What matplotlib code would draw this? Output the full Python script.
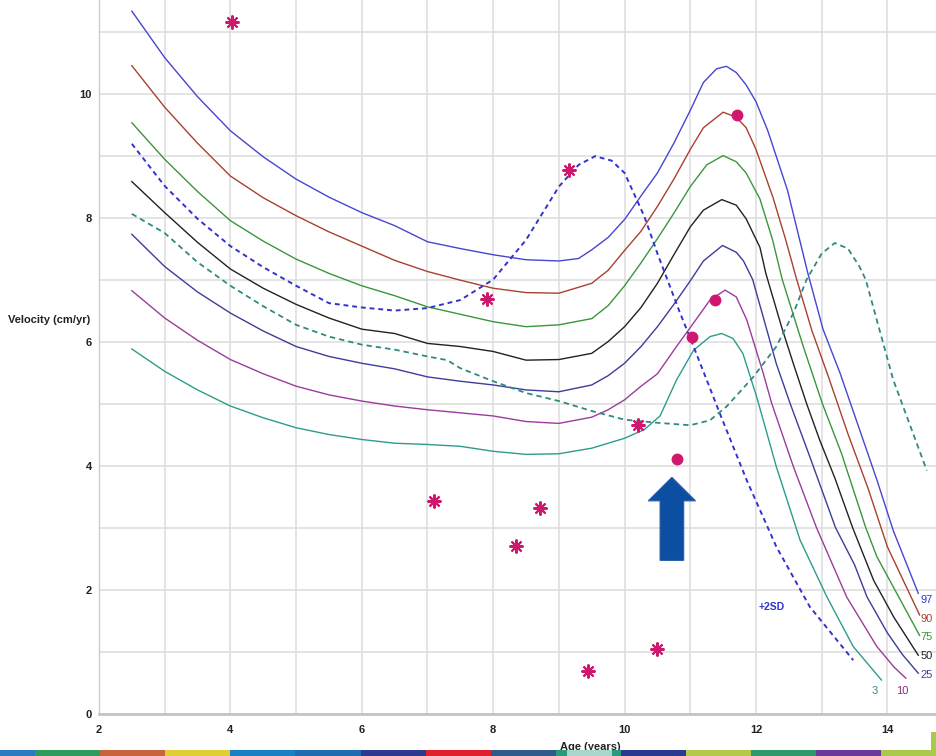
import matplotlib
matplotlib.use("Agg")
import matplotlib.pyplot as plt
from matplotlib.patches import Rectangle, Polygon

# ---------------- data ----------------
p97_x = [2.5, 3, 3.5, 4, 4.5, 5, 5.5, 6, 6.5, 7, 7.5, 8, 8.5, 9, 9.3, 9.5, 9.75, 10, 10.25, 10.5,
         10.75, 11, 11.2, 11.4, 11.55, 11.7, 11.85, 12.0, 12.18, 12.48, 12.79, 13.02, 13.28,
         13.58, 13.84, 14.09, 14.47]
p97_y = [11.33, 10.58, 9.95, 9.40, 8.98, 8.62, 8.33, 8.08, 7.87, 7.61, 7.50, 7.40, 7.32, 7.30, 7.34,
         7.48, 7.68, 7.97, 8.35, 8.72, 9.20, 9.73, 10.18, 10.40, 10.44, 10.34, 10.14, 9.87, 9.40,
         8.44, 7.10, 6.20, 5.49, 4.57, 3.77, 2.95, 1.94]

p90_x = [2.5, 3, 3.5, 4, 4.5, 5, 5.5, 6, 6.5, 7, 7.5, 8, 8.5, 9, 9.5, 9.75, 10, 10.25, 10.5, 10.75,
         11, 11.2, 11.5, 11.7, 11.85, 12.0, 12.26, 12.45, 12.62, 12.85, 13.1, 13.4, 13.7, 14.0, 14.49]
p90_y = [10.45, 9.78, 9.20, 8.67, 8.32, 8.03, 7.77, 7.54, 7.31, 7.13, 6.99, 6.86, 6.79, 6.78, 6.94,
         7.15, 7.47, 7.78, 8.18, 8.62, 9.10, 9.45, 9.70, 9.62, 9.45, 9.10, 8.32, 7.65, 7.00, 6.18,
         5.44, 4.51, 3.65, 2.69, 1.59]

p75_x = [2.5, 3, 3.5, 4, 4.5, 5, 5.5, 6, 6.5, 7, 7.5, 8, 8.5, 9, 9.5, 9.75, 10, 10.25, 10.5, 10.75,
         11, 11.25, 11.5, 11.7, 11.85, 12.06, 12.25, 12.4, 12.72, 13.01, 13.3, 13.67, 13.84, 14.49]
p75_y = [9.53, 8.94, 8.42, 7.95, 7.62, 7.33, 7.10, 6.90, 6.74, 6.56, 6.44, 6.32, 6.24, 6.27, 6.37,
         6.58, 6.90, 7.27, 7.66, 8.07, 8.50, 8.85, 9.00, 8.90, 8.72, 8.30, 7.65, 7.00, 5.92, 5.00,
         4.20, 3.00, 2.53, 1.26]

p50_x = [2.5, 3, 3.5, 4, 4.5, 5, 5.5, 6, 6.5, 7, 7.5, 8, 8.5, 9, 9.5, 9.75, 10, 10.25, 10.5, 10.75,
         11, 11.2, 11.48, 11.7, 11.85, 12.06, 12.15, 12.4, 12.57, 12.77, 12.97, 13.2, 13.47, 13.79,
         14.1, 14.47]
p50_y = [8.58, 8.08, 7.60, 7.17, 6.86, 6.60, 6.38, 6.20, 6.13, 5.97, 5.92, 5.84, 5.70, 5.71, 5.81,
         6.00, 6.24, 6.55, 6.94, 7.40, 7.85, 8.12, 8.29, 8.20, 7.98, 7.52, 7.10, 6.20, 5.64, 5.00,
         4.41, 3.80, 3.00, 2.15, 1.55, 0.94]

p25_x = [2.5, 3, 3.5, 4, 4.5, 5, 5.5, 6, 6.5, 7, 7.5, 8, 8.5, 9, 9.5, 9.75, 10, 10.25, 10.5, 10.75,
         11, 11.2, 11.49, 11.7, 11.81, 11.95, 12.31, 12.52, 12.82, 13.21, 13.5, 13.69, 14.0, 14.23,
         14.47]
p25_y = [7.73, 7.21, 6.80, 6.46, 6.17, 5.92, 5.76, 5.65, 5.56, 5.43, 5.36, 5.30, 5.22, 5.19, 5.30,
         5.45, 5.65, 5.92, 6.24, 6.60, 6.98, 7.30, 7.55, 7.44, 7.30, 7.00, 5.64, 5.00, 4.14, 3.00,
         2.40, 1.88, 1.30, 0.95, 0.65]

p10_x = [2.5, 3, 3.5, 4, 4.5, 5, 5.5, 6, 6.5, 7, 7.5, 8, 8.5, 9, 9.5, 9.75, 10, 10.25, 10.5, 10.79,
         11.05, 11.3, 11.53, 11.7, 11.86, 12.11, 12.24, 12.57, 12.92, 13.38, 13.84, 14.1, 14.28]
p10_y = [6.82, 6.38, 6.02, 5.71, 5.48, 5.28, 5.14, 5.04, 4.96, 4.90, 4.85, 4.80, 4.71, 4.68, 4.78,
         4.90, 5.06, 5.28, 5.48, 5.92, 6.30, 6.67, 6.83, 6.72, 6.35, 5.49, 5.00, 3.98, 3.00, 1.88,
         1.08, 0.75, 0.57]

p3_x = [2.5, 3, 3.5, 4, 4.5, 5, 5.5, 6, 6.5, 7, 7.5, 8, 8.5, 9, 9.5, 10, 10.3, 10.54, 10.79, 11.05,
        11.3, 11.48, 11.65, 11.8, 12.01, 12.31, 12.67, 13.08, 13.48, 13.91]
p3_y = [5.88, 5.52, 5.22, 4.96, 4.77, 4.61, 4.50, 4.42, 4.36, 4.34, 4.31, 4.23, 4.18, 4.19, 4.28,
        4.44, 4.58, 4.80, 5.38, 5.86, 6.08, 6.13, 6.05, 5.81, 5.11, 3.98, 2.80, 1.88, 1.08, 0.54]

sd_blue_x = [2.5, 3, 3.5, 4, 4.5, 5, 5.5, 6, 6.5, 7, 7.5, 8, 8.5, 9, 9.3, 9.55, 9.8, 10, 10.3, 10.5,
             10.83, 11.05, 11.45, 11.86, 12.31, 12.82, 13.48]
sd_blue_y = [9.19, 8.51, 7.98, 7.54, 7.20, 6.90, 6.62, 6.55, 6.50, 6.54, 6.67, 7.00, 7.64, 8.50,
             8.85, 8.99, 8.92, 8.72, 8.02, 7.42, 6.50, 5.92, 4.84, 3.76, 2.69, 1.72, 0.86]

sd_teal_x = [2.5, 3, 3.5, 4, 4.5, 5, 5.5, 6, 6.5, 7, 7.3, 7.5, 8, 8.5, 9, 9.5, 10, 10.5, 11.0, 11.3,
             11.55, 11.96, 12.31, 12.57, 12.77, 13.0, 13.2, 13.4, 13.58, 13.67, 14.09, 14.6]
sd_teal_y = [8.06, 7.75, 7.28, 6.90, 6.57, 6.27, 6.08, 5.95, 5.87, 5.76, 5.70, 5.57, 5.36, 5.17,
             5.04, 4.88, 4.74, 4.69, 4.65, 4.73, 4.95, 5.43, 5.92, 6.46, 7.00, 7.42, 7.59, 7.50,
             7.20, 7.00, 5.38, 3.92]

star_x = [4.02, 7.10, 7.90, 8.35, 8.71, 9.16, 9.44, 10.21, 10.49]
star_y = [11.15, 3.43, 6.69, 2.70, 3.32, 8.77, 0.69, 4.65, 1.04]

dot_x = [10.80, 11.03, 11.38, 11.71]
dot_y = [4.10, 6.07, 6.67, 9.65]

pct_labels = ["97", "90", "75", "50", "25"]
pct_label_y = [1.83, 1.52, 1.23, 0.93, 0.62]
x_ticks = [2, 4, 6, 8, 10, 12, 14]
y_ticks = [0, 2, 4, 6, 8, 10]

# arrow geometry (data units)
arrow_x, arrow_tip, arrow_head_base, arrow_bottom = 10.72, 3.81, 3.43, 2.47
arrow_head_half, arrow_shaft_half = 0.36, 0.18

# ---------------- figure ----------------
W, H = 936, 756
fig = plt.figure(figsize=(W / 100, H / 100), dpi=100)
fig.patch.set_facecolor("white")
ax = fig.add_axes([99 / W, (H - 713.5) / H, 1 - 99 / W, 713.5 / H])
ax.set_xlim(2, 14.74)
ax.set_ylim(0, 11.51)

narrow = ["Liberation Sans Narrow", "Liberation Sans", "DejaVu Sans"]

ax.set_xticks(x_ticks)
ax.set_yticks(y_ticks)
ax.set_xticks(range(2, 15), minor=True)
ax.set_yticks(range(0, 12), minor=True)
ax.grid(True, which="both", color="#dddddd", linewidth=1.1)
ax.set_axisbelow(True)
ax.tick_params(which="both", length=0)
ax.tick_params(axis="x", pad=8)
ax.tick_params(axis="y", pad=5)
for lab in ax.get_xticklabels() + ax.get_yticklabels():
    lab.set_family(narrow)
    lab.set_fontsize(8)
    lab.set_fontweight("bold")
    lab.set_color("#222222")
for s in ["top", "right"]:
    ax.spines[s].set_visible(False)
ax.spines["left"].set_color("#cccccc")
ax.spines["left"].set_linewidth(1.0)
ax.spines["bottom"].set_color("#c4c4c4")
ax.spines["bottom"].set_linewidth(2.0)

lw = 1.0
ax.plot(p97_x, p97_y, color="#4646d2", lw=lw)
ax.plot(p90_x, p90_y, color="#a8412f", lw=lw)
ax.plot(p75_x, p75_y, color="#3b963b", lw=lw)
ax.plot(p50_x, p50_y, color="#222222", lw=lw)
ax.plot(p25_x, p25_y, color="#3d3d9a", lw=lw)
ax.plot(p10_x, p10_y, color="#9a3c9e", lw=lw)
ax.plot(p3_x, p3_y, color="#2e9c8c", lw=lw)
ax.plot(sd_blue_x, sd_blue_y, color="#3333cc", lw=1.4, ls=(0, (2.5, 2)))
ax.plot(sd_teal_x, sd_teal_y, color="#2f8a82", lw=1.3, ls=(0, (3, 2.2)))

mcol = "#d0176e"
ax.plot(star_x, star_y, ls="none", marker=(8, 2, 0), ms=10, mew=1.5, color=mcol, zorder=5)
ax.plot(dot_x, dot_y, ls="none", marker="o", ms=7.5, color=mcol, mec=mcol, zorder=5)

arrow = Polygon([
    (arrow_x, arrow_tip),
    (arrow_x + arrow_head_half, arrow_head_base),
    (arrow_x + arrow_shaft_half, arrow_head_base),
    (arrow_x + arrow_shaft_half, arrow_bottom),
    (arrow_x - arrow_shaft_half, arrow_bottom),
    (arrow_x - arrow_shaft_half, arrow_head_base),
    (arrow_x - arrow_head_half, arrow_head_base),
], closed=True, facecolor="#0b4ea2", edgecolor="#2a5fa8", lw=0.8, zorder=6)
ax.add_patch(arrow)

pct_colors = ["#3333cc", "#a8412f", "#3b963b", "#222222", "#3d3d9a"]
for t, yy, c in zip(pct_labels, pct_label_y, pct_colors):
    ax.text(14.50, yy, t, color=c, fontsize=8, family=narrow, va="center", ha="left",
            clip_on=False)
ax.text(13.81, 0.36, "3", color="#2e8c8c", fontsize=8, family=narrow, ha="center", va="center")
ax.text(14.22, 0.36, "10", color="#8a2c7e", fontsize=8, family=narrow, ha="center", va="center")
ax.text(12.24, 1.72, "+2SD", color="#3333cc", fontsize=7.5, family=narrow, fontweight="bold",
        ha="center", va="center")

fig.text(8 / W, 1 - 320 / H, "Velocity (cm/yr)", fontsize=8, family=narrow, fontweight="bold",
         ha="left", va="center", color="#222222")
fig.text(590 / W, 1 - 747 / H, "Age (years)", fontsize=8, family=narrow, fontweight="bold",
         ha="center", va="center", color="#222222", zorder=1)

# decorative band at the bottom
band_colors = ["#2b7bc0", "#2e9a5c", "#c8643c", "#e0cf33", "#1a80c4", "#1f6bb0", "#2e3a90",
               "#e0202a", "#2f5b8a", "#2a9a7c", "#2a3a90", "#b4c84a", "#2e9a6a", "#6a3a9a",
               "#a9c94a"]
edges = [0] + [35 + 65.1 * i for i in range(len(band_colors) - 1)] + [W]
for i, c in enumerate(band_colors):
    fig.patches.append(Rectangle((edges[i] / W, 0), (edges[i + 1] - edges[i]) / W, 6 / H,
                                 transform=fig.transFigure, facecolor=c, edgecolor="none",
                                 zorder=10))
fig.patches.append(Rectangle((567 / W, 0), 45 / W, 6 / H, transform=fig.transFigure,
                             facecolor="#a8d6cc", edgecolor="none", zorder=11))
fig.patches.append(Rectangle((931 / W, 0), 5 / W, 24 / H, transform=fig.transFigure,
                             facecolor="#a9c94a", edgecolor="none", zorder=11))

fig.savefig("out.png", dpi=100)
